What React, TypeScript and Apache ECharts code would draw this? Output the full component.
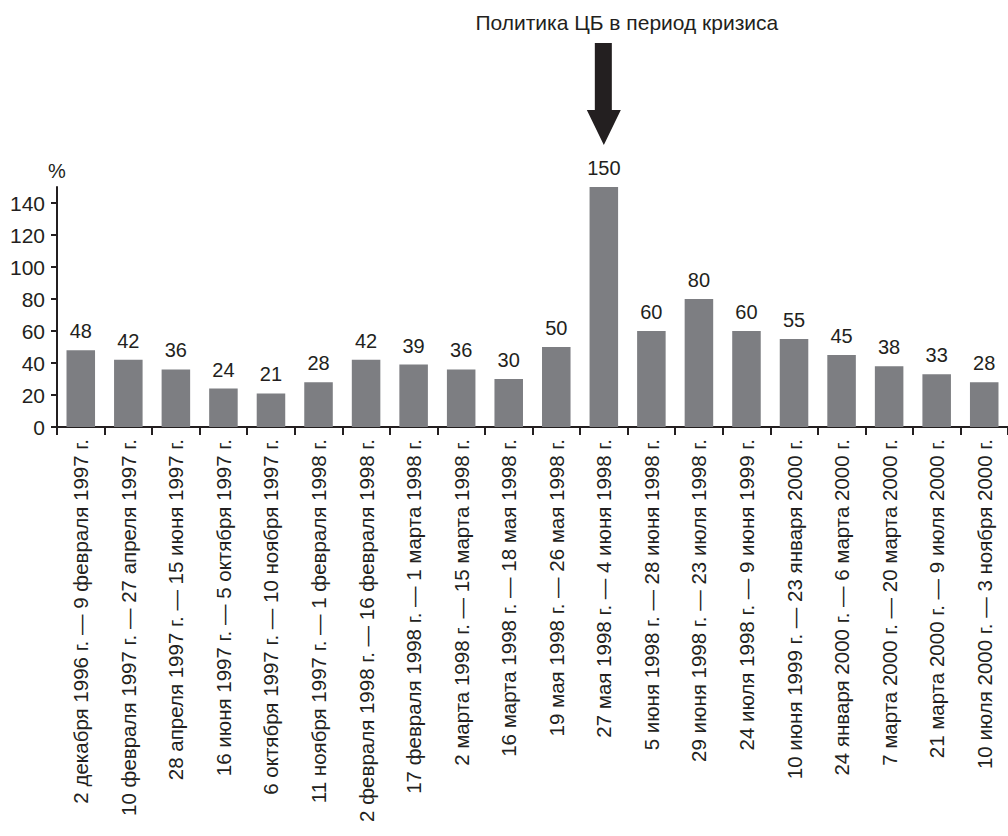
import React, { useEffect, useRef } from "react";
import * as echarts from "echarts";

const categories = [
  "2 декабря 1996 г. — 9 февраля 1997 г.",
  "10 февраля 1997 г. — 27 апреля 1997 г.",
  "28 апреля 1997 г. — 15 июня 1997 г.",
  "16 июня 1997 г. — 5 октября 1997 г.",
  "6 октября 1997 г. — 10 ноября 1997 г.",
  "11 ноября 1997 г. — 1 февраля 1998 г.",
  "2 февраля 1998 г. — 16 февраля 1998 г.",
  "17 февраля 1998 г. — 1 марта 1998 г.",
  "2 марта 1998 г. — 15 марта 1998 г.",
  "16 марта 1998 г. — 18 мая 1998 г.",
  "19 мая 1998 г. — 26 мая 1998 г.",
  "27 мая 1998 г. — 4 июня 1998 г.",
  "5 июня 1998 г. — 28 июня 1998 г.",
  "29 июня 1998 г. — 23 июля 1998 г.",
  "24 июля 1998 г. — 9 июня 1999 г.",
  "10 июня 1999 г. — 23 января 2000 г.",
  "24 января 2000 г. — 6 марта 2000 г.",
  "7 марта 2000 г. — 20 марта 2000 г.",
  "21 марта 2000 г. — 9 июля 2000 г.",
  "10 июля 2000 г. — 3 ноября 2000 г.",
];

const rates = [48, 42, 36, 24, 21, 28, 42, 39, 36, 30, 50, 150, 60, 80, 60, 55, 45, 38, 33, 28];

const yTicks = [0, 20, 40, 60, 80, 100, 120, 140];

const annotationText = "Политика ЦБ в период кризиса";
const annotatedIndex = 11;

const FONT = "Liberation Sans";
const TEXT = "#231f20";

export default function App() {
  const ref = useRef<HTMLDivElement>(null);

  useEffect(() => {
    if (!ref.current) return;
    const chart = echarts.init(ref.current, null, { renderer: "svg" });
    chart.setOption({
      animation: false,
      backgroundColor: "#ffffff",
      textStyle: { fontFamily: FONT, color: TEXT },
      grid: { left: 57, top: 187, width: 955, height: 240, containLabel: false },
      xAxis: {
        type: "category",
        data: categories,
        axisLine: { lineStyle: { color: TEXT, width: 2 } },
        axisTick: { show: true, alignWithLabel: false, length: 8, lineStyle: { color: TEXT, width: 2 } },
        axisLabel: {
          interval: 0,
          rotate: 90,
          margin: 12,
          fontSize: 20.5,
          color: TEXT,
          fontFamily: FONT,
        },
      },
      yAxis: {
        type: "value",
        min: 0,
        max: 150,
        name: "%",
        nameLocation: "end",
        nameGap: 6,
        nameTextStyle: { fontSize: 20, color: TEXT, fontFamily: FONT, align: "center" },
        axisLine: { show: true, lineStyle: { color: TEXT, width: 2 } },
        axisTick: { show: true, length: 6, customValues: yTicks, lineStyle: { color: TEXT, width: 2 } },
        axisLabel: { customValues: yTicks, fontSize: 21, color: TEXT, margin: 12, fontFamily: FONT },
        splitLine: { show: false },
      },
      series: [
        {
          type: "bar",
          data: rates,
          barCategoryGap: "40%",
          itemStyle: { color: "#7d7e82" },
          label: {
            show: true,
            position: "top",
            distance: 9,
            fontSize: 20,
            color: TEXT,
            fontFamily: FONT,
          },
        },
      ],
    });

    const cx = chart.convertToPixel({ xAxisIndex: 0 }, annotatedIndex) as number;
    chart.setOption({
      graphic: [
        {
          type: "text",
          x: cx + 23,
          y: 22,
          style: {
            text: annotationText,
            fontSize: 21,
            fontFamily: FONT,
            fill: TEXT,
            align: "center",
            verticalAlign: "middle",
          },
        },
        {
          type: "polygon",
          shape: {
            points: [
              [cx - 9, 43],
              [cx + 8, 43],
              [cx + 8, 110],
              [cx + 17, 110],
              [cx, 145],
              [cx - 17, 110],
              [cx - 9, 110],
            ],
          },
          style: { fill: TEXT },
        },
      ],
    });

    return () => chart.dispose();
  }, []);

  return (
    <div
      ref={ref}
      style={{ position: "fixed", left: 0, top: 0, width: 1008, height: 836 }}
    />
  );
}
